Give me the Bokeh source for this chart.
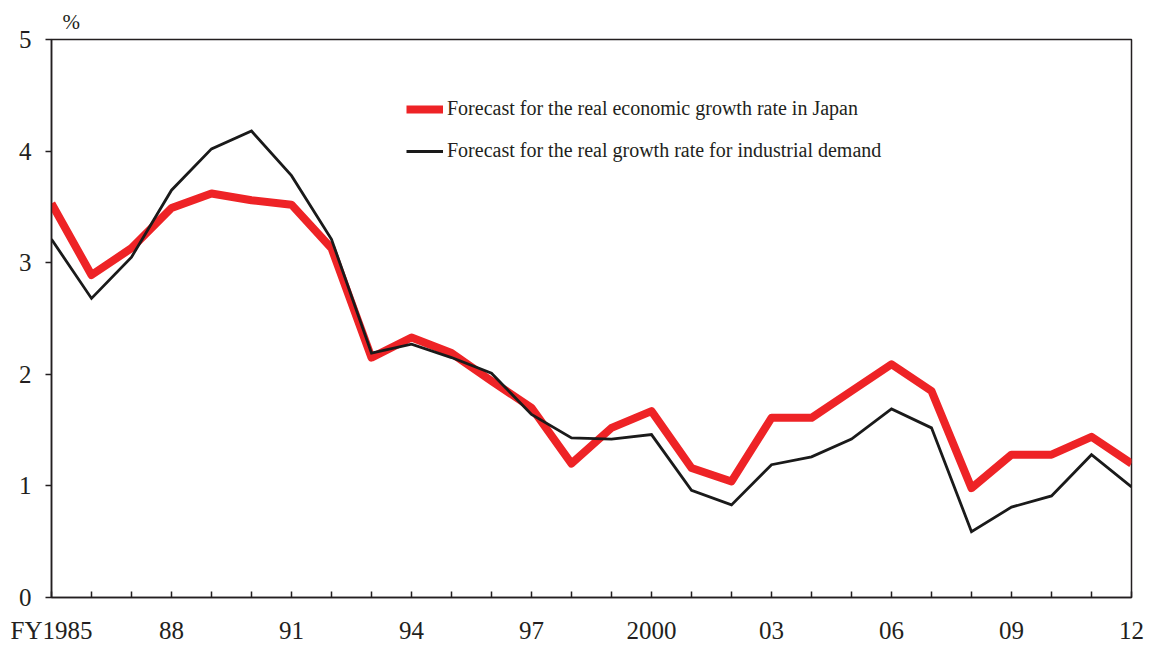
from bokeh.plotting import figure
from bokeh.models import Range1d, FixedTicker, Legend, LegendItem, ColumnDataSource, Title
from bokeh.embed import file_html
from bokeh.resources import INLINE

years = list(range(1985, 2013))
japan_gdp = [3.53, 2.89, 3.13, 3.49, 3.62, 3.56, 3.52, 3.13, 2.15, 2.33, 2.19, 1.94, 1.70,
             1.20, 1.52, 1.67, 1.16, 1.04, 1.61, 1.61, 1.85, 2.09, 1.85, 0.98, 1.28, 1.28,
             1.44, 1.20]
industrial = [3.21, 2.68, 3.05, 3.65, 4.02, 4.18, 3.78, 3.21, 2.19, 2.27, 2.15, 2.01, 1.64,
              1.43, 1.42, 1.46, 0.96, 0.83, 1.19, 1.26, 1.42, 1.69, 1.52, 0.59, 0.81, 0.91,
              1.28, 0.99]
tick_labels = {1985: "FY1985", 1988: "88", 1991: "91", 1994: "94", 1997: "97",
               2000: "2000", 2003: "03", 2006: "06", 2009: "09", 2012: "12"}
y_ticks = [0, 1, 2, 3, 4, 5]
series_names = ["Forecast for the real economic growth rate in Japan",
                "Forecast for the real growth rate for industrial demand"]
unit_label = "%"

FONT = "Liberation Serif"
TXT = "#231F20"

src = ColumnDataSource(dict(x=years, a=japan_gdp, b=industrial))

p = figure(frame_width=1080, frame_height=558, output_backend="svg", toolbar_location=None,
           x_range=Range1d(1985, 2012), y_range=Range1d(0, 5),
           min_border_left=51, min_border_right=18, min_border_top=39, min_border_bottom=47)
p.grid.visible = False
p.outline_line_color = TXT
p.outline_line_width = 1.5
p.background_fill_color = "white"

p.title = Title(text=unit_label, align="left", offset=11, standoff=11, text_font=FONT,
                text_font_size="21px", text_font_style="normal", text_color=TXT)

r1 = p.line("x", "a", source=src, line_color="#EE2326", line_width=8, line_join="round")
r2 = p.line("x", "b", source=src, line_color="#1A1A1A", line_width=2.8, line_join="miter")

# axes
xa = p.xaxis[0]
xa.ticker = FixedTicker(ticks=years)
xa.major_label_overrides = {y: tick_labels.get(y, "") for y in years}
xa.major_tick_in = 6
xa.major_tick_out = 0
xa.minor_tick_line_color = None
xa.major_label_standoff = 19
ya = p.yaxis[0]
ya.ticker = FixedTicker(ticks=y_ticks)
ya.major_tick_in = 0
ya.major_tick_out = 6
ya.minor_tick_line_color = None
ya.major_label_standoff = 14
for ax in (xa, ya):
    ax.axis_line_color = TXT
    ax.axis_line_width = 1.5
    ax.major_tick_line_color = TXT
    ax.major_tick_line_width = 1.5
    ax.major_label_text_font = FONT
    ax.major_label_text_font_size = "25px"
    ax.major_label_text_color = TXT

legend = Legend(items=[LegendItem(label=series_names[0], renderers=[r1]),
                       LegendItem(label=series_names[1], renderers=[r2])],
                location=(355, 435), padding=0, spacing=19, glyph_width=37, glyph_height=20,
                label_height=20, label_standoff=4, label_text_font=FONT,
                label_text_font_size="20px", label_text_color=TXT,
                border_line_alpha=0, background_fill_alpha=0)
p.add_layout(legend)

open("out.html", "w").write(file_html(p, INLINE))
